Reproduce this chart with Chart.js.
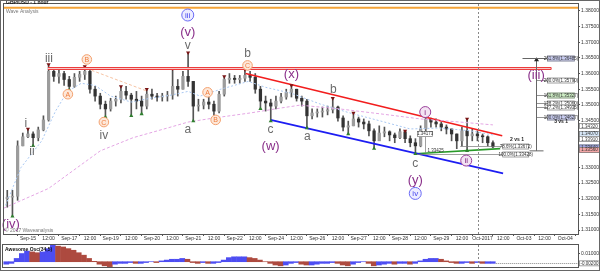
<!DOCTYPE html>
<html>
<head>
<meta charset="utf-8">
<script src="https://cdn.jsdelivr.net/npm/chart.js@4.4.0/dist/chart.umd.min.js"></script>
<style>
  html, body { margin: 0; padding: 0; background: #fff; }
  #wrap { position: relative; width: 600px; height: 271px; overflow: hidden; background: #fff; }
  #wrap::after { content: ''; position: absolute; left: 0; top: 0; right: 0; bottom: 0; border: 1px solid #666; pointer-events: none; }
  #main { position: absolute; left: 0; top: 0; }
  #osc { position: absolute; left: 0; top: 241px; }
</style>
</head>
<body>
<div id="wrap">
  <canvas id="main" width="600" height="241"></canvas>
  <canvas id="osc" width="600" height="30"></canvas>
</div>
<script>
// hourly candles, one every 3 hour-slots (slot 0 = Sep-15 label)
const closes = [1.3205,1.3208,1.3369,1.3398,1.3407,1.3395,1.3420,1.3452,1.3607,1.3591,
  1.3600,1.3581,1.3559,1.3588,1.3597,1.3607,1.3550,1.3528,1.3502,1.3487,
  1.3512,1.3518,1.3543,1.3531,1.3518,1.3512,1.3496,1.3534,1.3528,1.3525,
  1.3528,1.3531,1.3559,1.3550,1.3591,1.3575,1.3496,1.3499,1.3509,1.3502,
  1.3480,1.3534,1.3581,1.3585,1.3581,1.3585,1.3594,1.3588,1.3550,1.3512,
  1.3506,1.3496,1.3512,1.3525,1.3540,1.3550,1.3521,1.3512,1.3465,1.3474,
  1.3477,1.3480,1.3484,1.3493,1.3458,1.3429,1.3433,1.3455,1.3445,1.3439,
  1.3417,1.3385,1.3410,1.3414,1.3404,1.3395,1.3414,1.3392,1.3379,1.3369,
  1.3423,1.3455,1.3445,1.3439,1.3429,1.3423,1.3407,1.3385,1.3417,1.3401,
  1.3407,1.3401,1.3398,1.3379,1.3366];
const highs = [1.3227,1.3227,1.3385,1.3410,1.3423,1.3414,1.3429,1.3465,1.3629,1.3619,
  1.3613,1.3607,1.3591,1.3600,1.3607,1.3623,1.3613,1.3559,1.3537,1.3512,
  1.3521,1.3528,1.3559,1.3559,1.3537,1.3543,1.3528,1.3550,1.3550,1.3537,
  1.3537,1.3543,1.3616,1.3581,1.3607,1.3667,1.3575,1.3518,1.3518,1.3528,
  1.3512,1.3543,1.3591,1.3600,1.3594,1.3594,1.3613,1.3607,1.3600,1.3559,
  1.3528,1.3518,1.3528,1.3537,1.3550,1.3562,1.3550,1.3528,1.3518,1.3487,
  1.3487,1.3493,1.3496,1.3521,1.3496,1.3465,1.3448,1.3474,1.3461,1.3455,
  1.3448,1.3423,1.3433,1.3429,1.3417,1.3410,1.3423,1.3417,1.3401,1.3392,
  1.3433,1.3465,1.3458,1.3455,1.3445,1.3436,1.3423,1.3407,1.3429,1.3455,
  1.3423,1.3417,1.3407,1.3401,1.3385];
const lows = [1.3173,1.3144,1.3195,1.3369,1.3395,1.3369,1.3385,1.3417,1.3448,1.3575,
  1.3569,1.3562,1.3547,1.3556,1.3575,1.3581,1.3537,1.3512,1.3487,1.3461,
  1.3480,1.3496,1.3506,1.3518,1.3465,1.3487,1.3471,1.3487,1.3518,1.3512,
  1.3512,1.3512,1.3518,1.3528,1.3550,1.3559,1.3448,1.3480,1.3487,1.3487,
  1.3455,1.3474,1.3528,1.3569,1.3569,1.3569,1.3575,1.3575,1.3537,1.3487,
  1.3480,1.3448,1.3487,1.3506,1.3518,1.3525,1.3512,1.3496,1.3426,1.3455,
  1.3461,1.3461,1.3468,1.3474,1.3448,1.3417,1.3407,1.3433,1.3429,1.3423,
  1.3401,1.3360,1.3392,1.3398,1.3385,1.3379,1.3392,1.3379,1.3366,1.3344,
  1.3366,1.3417,1.3429,1.3429,1.3417,1.3407,1.3385,1.3360,1.3369,1.3353,
  1.3385,1.3385,1.3379,1.3369,1.3363];
const firstOpen = 1.3200;

// awesome oscillator, same candles
const aoValues = [-0.003,-0.002,0.004,0.010,0.013,0.012,0.011,0.012,0.016,0.020,
  0.019,0.018,0.016,0.014,0.011,0.008,0.004,0.0005,-0.003,-0.005,
  -0.006,-0.003,-0.002,-0.002,-0.001,-0.002,-0.002,-0.001,0.000,-0.001,
  0.001,0.002,0.003,0.003,0.004,0.003,-0.001,-0.002,-0.001,-0.002,
  -0.002,-0.001,0.002,0.005,0.006,0.006,0.006,0.005,0.004,0.002,
  0.000,-0.002,-0.004,-0.005,-0.004,-0.002,-0.001,-0.003,-0.004,-0.004,
  -0.003,-0.002,-0.002,-0.001,-0.002,-0.004,-0.005,-0.003,-0.001,0.000,
  -0.002,-0.005,-0.004,-0.003,-0.002,-0.003,-0.002,-0.002,-0.003,-0.002,
  0.001,0.003,0.004,0.004,0.003,0.001,-0.001,-0.002,-0.002,-0.001,
  -0.002,-0.001,-0.002,-0.002,-0.002];

// moving averages (slot, price)
const maSlowSlots = [-14, 12, 42, 61, 81, 93, 108, 129, 147, 158, 181, 205, 228, 251, 270];
const maSlowVals = [1.3170,1.3233,1.3353,1.3395,1.3426,1.3445,1.3458,1.3474,1.3490,1.3499,1.3487,1.3471,1.3455,1.3445,1.3436];
const maFastSlots = [-13, -4, 8, 16, 23, 31, 39, 48, 60, 71, 83, 93, 100, 112, 128, 138, 153, 170, 187, 205, 222, 239, 257, 270];
const maFastVals = [1.3179,1.3300,1.3385,1.3480,1.3543,1.3569,1.3562,1.3528,1.3509,1.3521,1.3531,1.3543,1.3528,1.3550,1.3575,1.3556,1.3537,1.3502,1.3474,1.3448,1.3423,1.3426,1.3417,1.3404];

// drawn lines
const redTrend = [[126.4, 1.3600], [275.4, 1.3401]];
const blueTrend = [[140.9, 1.3452], [275.9, 1.3281]];
const greenTrend = [[224.9, 1.3344], [274.2, 1.3360]];
const resistSlots = [11.6, 303.8];
const resistPrices = [1.3622, 1.3614];
const orangeLevel = 1.3810;
const peachDash = [[34.2, 1.3616], [69.6, 1.3543]];
const separatorSlot = 261.4;

// swing markers (candle index)
const lowMarks = [1, 5, 12, 19, 24, 26, 36, 40, 49, 51, 58, 66, 71, 79, 89];
const highMarks = [4, 8, 15, 22, 27, 32, 35, 42, 46, 55, 63, 67, 77, 81, 89];

// wave labels [slot, price, text, style]
const waveLabels = [
  [-9.9, 1.3119, '(iv)', 'purple'],
  [2.3, 1.3350, 'ii', 'gray'],
  [-1.2, 1.3439, 'i', 'gray'],
  [12.2, 1.3648, 'iii', 'gray'],
  [23.2, 1.3534, 'A', 'orange'],
  [34.2, 1.3645, 'B', 'orange'],
  [44.1, 1.3445, 'C', 'orange'],
  [44.1, 1.3401, 'iv', 'gray'],
  [92.8, 1.3787, 'iii', 'blue'],
  [92.8, 1.3730, '(v)', 'purple'],
  [92.8, 1.3689, 'v', 'gray'],
  [92.8, 1.3420, 'a', 'gray'],
  [104.3, 1.3540, 'A', 'orange'],
  [109.0, 1.3452, 'B', 'orange'],
  [127.5, 1.3664, 'b', 'gray'],
  [127.5, 1.3626, 'C', 'orange'],
  [140.9, 1.3420, 'c', 'gray'],
  [140.9, 1.3366, '(w)', 'purple'],
  [153.0, 1.3597, '(x)', 'purple'],
  [162.3, 1.3398, 'a', 'gray'],
  [177.4, 1.3547, 'b', 'gray'],
  [224.9, 1.3312, 'c', 'gray'],
  [224.9, 1.3258, '(y)', 'purple'],
  [224.9, 1.3217, 'iv', 'blue'],
  [230.7, 1.3477, 'i', 'violet'],
  [254.5, 1.3322, 'ii', 'violet'],
  [295.1, 1.3594, '(iii)', 'purple']
];

// fibonacci projection on the right
const fibPct = ['261.8%', '200.0%', '161.8%', '138.2%', '127.2%', '100.0%'];
const fibPrices = [1.36485, 1.35790, 1.35327, 1.35060, 1.34935, 1.34627];
const fibFill = ['#c9cdf2', '#ffffff', '#cdeec4', '#ffffff', '#ffffff', '#c9cdf2'];
const fibToolSlot = 295.1;
const fibToolBottom = 1.3353;
const fib2Pct = ['78.6%', '100.0%'];
const fib2Prices = [1.33672, 1.33428];

// price tags on the right axis
const tagPrices = [1.3432, 1.3407, 1.3391, 1.3364, 1.3356];
const tagFill = ['#ffffff', '#d6e6f6', '#ffffff', '#9aa6e6', '#f2a6a6'];

// axes
const xTickLabels = ['Sep-15','12:00','Sep-17','12:00','Sep-19','12:00','Sep-20','12:00','Sep-21','12:00',
  'Sep-22','12:00','Sep-24','12:00','Sep-26','12:00','Sep-27','12:00','Sep-28','12:00',
  'Sep-29','12:00','Oct-2017','12:00','Oct-03','12:00','Oct-04'];
const priceTicks = [1.31, 1.315, 1.32, 1.325, 1.33, 1.335, 1.34, 1.345, 1.35, 1.355, 1.36, 1.365, 1.37, 1.375, 1.38];
const aoTicks = [0.01];

const X_MIN = -13.9, X_MAX = 319.4;
const FONT = 'Liberation Sans, Arial, sans-serif';
const candleSlot = i => -12 + 3 * i;
const opens = closes.map((c, i) => i === 0 ? firstOpen : closes[i - 1]);
const pts = arr => arr.map(p => ({ x: p[0], y: p[1] }));

function lineSet(data, color, width, dash) {
  return { type: 'line', data, borderColor: color, borderWidth: width, borderDash: dash || [],
    pointRadius: 0, fill: false, tension: 0, order: 0 };
}

function circleText(ctx, x, y, r, text, stroke, fill, color, size) {
  ctx.beginPath();
  ctx.arc(x, y, r, 0, Math.PI * 2);
  ctx.fillStyle = fill; ctx.fill();
  ctx.lineWidth = 1; ctx.strokeStyle = stroke; ctx.stroke();
  ctx.fillStyle = color;
  ctx.font = size + 'px ' + FONT;
  ctx.textAlign = 'center'; ctx.textBaseline = 'middle';
  ctx.fillText(text, x, y + 0.5);
}

function box(ctx, x, y, w, h, text, fill) {
  ctx.fillStyle = fill;
  ctx.fillRect(x, y - h / 2, w, h);
  ctx.strokeStyle = '#777'; ctx.lineWidth = 0.7;
  ctx.strokeRect(x + 0.5, y - h / 2 + 0.5, w - 1, h - 1);
  ctx.fillStyle = '#333';
  ctx.font = '4.5px ' + FONT;
  ctx.textAlign = 'center'; ctx.textBaseline = 'middle';
  ctx.fillText(text, x + w / 2, y + 0.3);
}

const overlay = {
  id: 'overlay',
  afterDatasetsDraw(chart) {
    const { ctx, chartArea: a, scales: { x, y } } = chart;
    ctx.save();
    // double resistance line
    ctx.setLineDash([]);
    ctx.lineWidth = 1;
    const x0 = x.getPixelForValue(resistSlots[0]), x1 = x.getPixelForValue(resistSlots[1]);
    const ya = Math.round(y.getPixelForValue(resistPrices[0])) + 0.5;
    const yb = Math.round(y.getPixelForValue(resistPrices[1])) + 0.5;
    ctx.fillStyle = '#f7c9c9';
    ctx.fillRect(x0, ya, x1 - x0, yb - ya);
    ctx.strokeStyle = 'rgb(236, 60, 60)';
    ctx.beginPath();
    ctx.moveTo(x0, ya); ctx.lineTo(x1, ya); ctx.lineTo(x1, yb); ctx.lineTo(x0, yb);
    ctx.stroke();

    // session separator
    ctx.strokeStyle = '#888'; ctx.lineWidth = 1; ctx.setLineDash([2, 2]);
    const sx = Math.round(x.getPixelForValue(separatorSlot)) + 0.5;
    ctx.beginPath(); ctx.moveTo(sx, a.top); ctx.lineTo(sx, a.bottom); ctx.stroke();
    ctx.setLineDash([]);

    // fib tool
    const fx = Math.round(x.getPixelForValue(fibToolSlot)) + 0.5;
    ctx.strokeStyle = '#666'; ctx.lineWidth = 1;
    ctx.beginPath();
    ctx.moveTo(fx, y.getPixelForValue(fibPrices[0])); ctx.lineTo(fx, y.getPixelForValue(fibToolBottom));
    ctx.moveTo(fx - 7, y.getPixelForValue(fibToolBottom)); ctx.lineTo(fx + 7, y.getPixelForValue(fibToolBottom));
    ctx.stroke();
    ctx.fillStyle = '#222';
    ctx.beginPath();
    const ty = y.getPixelForValue(fibPrices[0]);
    ctx.moveTo(fx - 2.5, ty + 3); ctx.lineTo(fx + 2.5, ty + 3); ctx.lineTo(fx, ty - 1); ctx.fill();
    const bx = x.getPixelForValue(301.4);
    fibPct.forEach((pct, k) => {
      const py = Math.round(y.getPixelForValue(fibPrices[k])) + 0.5;
      ctx.strokeStyle = '#666';
      ctx.beginPath(); ctx.moveTo(k === 0 ? fx - 14 : fx, py); ctx.lineTo(bx, py); ctx.stroke();
      box(ctx, bx, py, 28, 6, pct + '(' + fibPrices[k].toFixed(5) + ')', fibFill[k]);
    });
    ctx.fillStyle = '#222'; ctx.font = 'bold 5px ' + FONT; ctx.textAlign = 'center'; ctx.textBaseline = 'middle';
    ctx.fillText('3 vs 1', x.getPixelForValue(309.6), y.getPixelForValue(1.3445));

    // 2 vs 1 projection
    const b2 = x.getPixelForValue(275.4);
    fib2Pct.forEach((pct, k) => {
      const py = Math.round(y.getPixelForValue(fib2Prices[k])) + 0.5;
      ctx.strokeStyle = '#777';
      ctx.beginPath(); ctx.moveTo(x.getPixelForValue(k === 0 ? 251 : 226), py); ctx.lineTo(b2, py); ctx.stroke();
      box(ctx, b2, py, 27, 6, pct + '(' + fib2Prices[k].toFixed(5) + ')', '#fff');
    });
    ctx.fillStyle = '#222'; ctx.font = 'bold 5px ' + FONT; ctx.textAlign = 'center'; ctx.textBaseline = 'middle';
    ctx.fillText('2 vs 1', x.getPixelForValue(284), y.getPixelForValue(1.3389));

    // measure at (i)
    const mx = Math.round(x.getPixelForValue(230.7)) + 0.5;
    ctx.strokeStyle = '#777';
    ctx.beginPath(); ctx.moveTo(mx, y.getPixelForValue(1.3407)); ctx.lineTo(mx, y.getPixelForValue(1.3347)); ctx.stroke();
    box(ctx, x.getPixelForValue(226), y.getPixelForValue(1.3407), 16, 6, '1.34173', '#fff');
    ctx.fillStyle = '#333'; ctx.font = '4.5px ' + FONT; ctx.textAlign = 'left';
    ctx.fillText('1.33425', mx + 2, y.getPixelForValue(1.3352));

    // wave labels
    waveLabels.forEach(([s, p, text, style]) => {
      const px = x.getPixelForValue(s), py = y.getPixelForValue(p);
      if (style === 'gray') {
        ctx.fillStyle = '#6b6b6b'; ctx.font = '12px ' + FONT;
        ctx.textAlign = 'center'; ctx.textBaseline = 'middle';
        ctx.fillText(text, px, py);
      } else if (style === 'purple') {
        ctx.fillStyle = '#8a2f8a'; ctx.font = '13px ' + FONT;
        ctx.textAlign = 'center'; ctx.textBaseline = 'middle';
        ctx.fillText(text, px, py);
      } else if (style === 'orange') {
        circleText(ctx, px, py, 4.8, text, '#f3a16f', '#fde8da', '#f07c3c', 7);
      } else if (style === 'blue') {
        circleText(ctx, px, py, 6, text, '#6b6bf5', '#ececff', '#4646ee', 8);
      } else {
        circleText(ctx, px, py, 5.5, text, '#9a3f9a', '#f3e3f3', '#7e1f7e', 8);
      }
    });
    ctx.restore();
  },
  afterDraw(chart) {
    const { ctx, chartArea: a, scales: { y } } = chart;
    ctx.save();
    ctx.strokeStyle = '#555'; ctx.lineWidth = 1;
    ctx.strokeRect(a.left - 0.5, a.top - 0.5, a.right - a.left + 1, a.bottom - a.top + 1);
    tagPrices.forEach((p, k) => box(ctx, a.right + 1, y.getPixelForValue(p), 21, 6, p.toFixed(5), tagFill[k]));
    ctx.fillStyle = '#111'; ctx.font = 'bold 5px ' + FONT; ctx.textAlign = 'left'; ctx.textBaseline = 'top';
    ctx.fillText('GBP/USD - 1 hour', 6, 0);
    ctx.fillStyle = '#777'; ctx.font = '5px ' + FONT;
    ctx.fillText('Wave Analysis', 6, 9);
    ctx.fillText('\u00a9 2017 Waveanalysis', 5, 228);
    ctx.restore();
  }
};

const mainChart = new Chart(document.getElementById('main'), {
  type: 'bar',
  data: {
    datasets: [
      lineSet(pts([[X_MIN, orangeLevel], [X_MAX, orangeLevel]]), '#f5a337', 2),
      lineSet(maSlowSlots.map((s, i) => ({ x: s, y: maSlowVals[i] })), '#e4a6e4', 1, [3, 2]),
      lineSet(maFastSlots.map((s, i) => ({ x: s, y: maFastVals[i] })), '#a9c8f2', 1, [2, 2]),
      lineSet(pts(peachDash), '#f6c3a3', 1, [3, 2]),
      {
        data: highs.map((h, i) => ({ x: candleSlot(i), y: [lows[i], h] })),
        backgroundColor: '#555555', barThickness: 1, grouped: false, order: 2
      },
      {
        data: closes.map((c, i) => ({ x: candleSlot(i), y: [opens[i], c] })),
        backgroundColor: closes.map((c, i) => c >= opens[i] ? '#9c9c9c' : '#333333'),
        borderWidth: 0, minBarLength: 1,
        barThickness: 2.6, grouped: false, order: 1
      },
      lineSet(pts(redTrend), '#f21d1d', 1.6),
      lineSet(pts(blueTrend), '#1d1df2', 1.6),
      lineSet(pts(greenTrend), '#2a9a2a', 1.6),
      {
        type: 'line', showLine: false, order: -1,
        data: lowMarks.map(i => ({ x: candleSlot(i), y: lows[i] })),
        pointStyle: 'triangle', pointRadius: 2.4, backgroundColor: '#2f7f2f', borderColor: '#2f7f2f', borderWidth: 0
      },
      {
        type: 'line', showLine: false, order: -1,
        data: highMarks.map(i => ({ x: candleSlot(i), y: highs[i] })),
        pointStyle: 'triangle', rotation: 180, pointRadius: 2.4, backgroundColor: '#7a1515', borderColor: '#7a1515', borderWidth: 0
      }
    ]
  },
  options: {
    responsive: false, animation: false, events: [],
    layout: { padding: { left: 3, top: 2, right: 0, bottom: 0 } },
    plugins: { legend: { display: false }, tooltip: { enabled: false } },
    scales: {
      x: {
        type: 'linear', min: X_MIN, max: X_MAX, offset: false,
        afterBuildTicks: s => { s.ticks = xTickLabels.map((_, k) => ({ value: k * 12 })); },
        afterFit: s => { s.height = 7; },
        ticks: { autoSkip: false, maxRotation: 0, padding: 0, color: '#333', font: { size: 5, family: FONT },
          callback: (v) => xTickLabels[Math.round(v / 12)] },
        grid: { drawOnChartArea: false, tickLength: 2, color: '#555' },
        border: { display: false }
      },
      y: {
        position: 'right', min: 1.30874, max: 1.38222,
        afterBuildTicks: s => { s.ticks = priceTicks.map(v => ({ value: v })); },
        afterFit: s => { s.width = 22; },
        ticks: { padding: 1, color: '#333', font: { size: 5, family: FONT }, callback: v => v.toFixed(5) },
        grid: { drawOnChartArea: false, tickLength: 2, color: '#555' },
        border: { display: false }
      }
    }
  },
  plugins: [overlay]
});

const aoOverlay = {
  id: 'aoOverlay',
  afterDatasetsDraw(chart) {
    const { ctx, chartArea: a, scales: { x, y } } = chart;
    ctx.save();
    ctx.strokeStyle = '#888'; ctx.lineWidth = 1; ctx.setLineDash([2, 2]);
    const sx = Math.round(x.getPixelForValue(separatorSlot)) + 0.5;
    ctx.beginPath(); ctx.moveTo(sx, a.top); ctx.lineTo(sx, a.bottom); ctx.stroke();
    const last = aoValues[aoValues.length - 1];
    const ly = Math.round(y.getPixelForValue(last)) + 0.5;
    ctx.setLineDash([1, 1]);
    ctx.beginPath(); ctx.moveTo(x.getPixelForValue(candleSlot(aoValues.length - 1)) + 3, ly); ctx.lineTo(a.right, ly); ctx.stroke();
    ctx.setLineDash([]);
    ctx.restore();
  },
  afterDraw(chart) {
    const { ctx, chartArea: a, scales: { y } } = chart;
    ctx.save();
    ctx.strokeStyle = '#555'; ctx.lineWidth = 1;
    ctx.strokeRect(a.left - 0.5, a.top - 0.5, a.right - a.left + 1, a.bottom - a.top + 1);
    const last = aoValues[aoValues.length - 1];
    box(ctx, a.right + 1, y.getPixelForValue(last), 21, 6, last.toFixed(5), '#fff');
    ctx.fillStyle = '#111'; ctx.font = 'bold 5px ' + FONT; ctx.textAlign = 'left'; ctx.textBaseline = 'top';
    ctx.fillText('Awesome Osc(34,5)', 5, a.top + 2);
    ctx.restore();
  }
};

const aoChart = new Chart(document.getElementById('osc'), {
  type: 'bar',
  data: {
    datasets: [{
      data: aoValues.map((v, i) => ({ x: candleSlot(i), y: v })),
      backgroundColor: aoValues.map((v, i) => i > 0 && v < aoValues[i - 1] ? '#ad4a3f' : '#4d4df2'),
      barThickness: 5, grouped: false
    }]
  },
  options: {
    responsive: false, animation: false, events: [],
    layout: { padding: { left: 3, top: 2, right: 0, bottom: 3 } },
    plugins: { legend: { display: false }, tooltip: { enabled: false } },
    scales: {
      x: { type: 'linear', min: X_MIN, max: X_MAX, offset: false, display: false },
      y: {
        position: 'right', min: -0.00645, max: 0.02043,
        afterBuildTicks: s => { s.ticks = aoTicks.map(v => ({ value: v })); },
        afterFit: s => { s.width = 22; },
        ticks: { padding: 1, color: '#333', font: { size: 5, family: FONT }, callback: v => v.toFixed(5) },
        grid: { drawOnChartArea: false, tickLength: 2, color: '#555' },
        border: { display: false }
      }
    }
  },
  plugins: [aoOverlay]
});
</script>
</body>
</html>
